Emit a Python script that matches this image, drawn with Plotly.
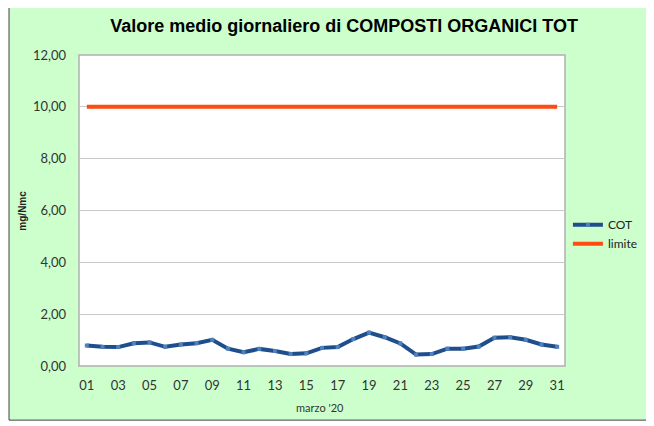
import plotly.graph_objects as go

# ── Dati ─────────────────────────────────────────────────────────────────────
giorni = [f"{d:02d}" for d in range(1, 32)]
cot = [0.79, 0.74, 0.73, 0.88, 0.91, 0.74, 0.83, 0.88, 1.01, 0.67, 0.53,
       0.66, 0.58, 0.46, 0.49, 0.70, 0.73, 1.04, 1.29, 1.11, 0.87, 0.44,
       0.46, 0.67, 0.67, 0.75, 1.09, 1.11, 1.01, 0.83, 0.74]
limite = [10.0] * 31
y_ticks = [0, 2, 4, 6, 8, 10, 12]
x_ticks = giorni[::2]

VERDE = "#CCFFCC"
FONT_TICK = dict(family="Lato, sans-serif", size=13, color="#333333")

fig = go.Figure()

fig.add_trace(go.Scatter(
    x=giorni, y=cot, name="COT",
    mode="lines+markers",
    line=dict(color="#1F4E8C", width=4),
    marker=dict(symbol="square", size=4, color="#4F81BD"),
))
fig.add_trace(go.Scatter(
    x=giorni, y=limite, name="limite",
    mode="lines",
    line=dict(color="#FF4A12", width=4),
))

# sfondo verde con bordo + area grafico bianca
fig.add_shape(type="rect", xref="paper", yref="paper",
              x0=-0.144, x1=1.176, y0=-0.174, y1=1.2,
              fillcolor=VERDE, line=dict(color="#404040", width=1), layer="below")
fig.add_shape(type="rect", xref="paper", yref="paper",
              x0=0, x1=1, y0=0, y1=1,
              fillcolor="white", line=dict(color="#B0B0B0", width=1.5), layer="below")

fig.add_annotation(text="<b>mg/Nmc</b>", xref="paper", yref="paper",
                   x=-0.117, y=0.5, xanchor="center", yanchor="middle",
                   textangle=-90, showarrow=False,
                   font=dict(family="Liberation Sans, Arial", size=10, color="#222222"))
fig.add_annotation(text="marzo '20", xref="paper", yref="paper",
                   x=0.496, y=-0.132, xanchor="center", yanchor="middle",
                   showarrow=False,
                   font=dict(family="Lato, sans-serif", size=11, color="#333333"))

fig.update_layout(
    width=654, height=426,
    margin=dict(l=71, r=97, t=47, b=68),
    paper_bgcolor="white",
    plot_bgcolor="rgba(0,0,0,0)",
    separators=",.",
    title=dict(text="<b>Valore medio giornaliero di COMPOSTI ORGANICI TOT</b>",
               x=0.514, xanchor="center", y=0.958, yanchor="middle",
               font=dict(family="Liberation Sans, Arial", size=18, color="black")),
    xaxis=dict(type="category", range=[-0.5, 30.5], tickvals=x_ticks,
               showgrid=False, showline=False, zeroline=False,
               tickfont=FONT_TICK, ticklabelstandoff=10),
    yaxis=dict(range=[0, 12], tickvals=y_ticks, tickformat=".2f",
               showgrid=True, gridcolor="#C8C8C8", gridwidth=1,
               showline=False, zeroline=False,
               tickfont=FONT_TICK, ticklabelstandoff=12),
    legend=dict(x=1.006, y=0.424, xanchor="left", yanchor="middle",
                bgcolor="rgba(0,0,0,0)", itemwidth=30,
                font=dict(family="Lato, sans-serif", size=12, color="#222222"),
                tracegroupgap=2),
    showlegend=True,
)

fig.write_html("out.html")
